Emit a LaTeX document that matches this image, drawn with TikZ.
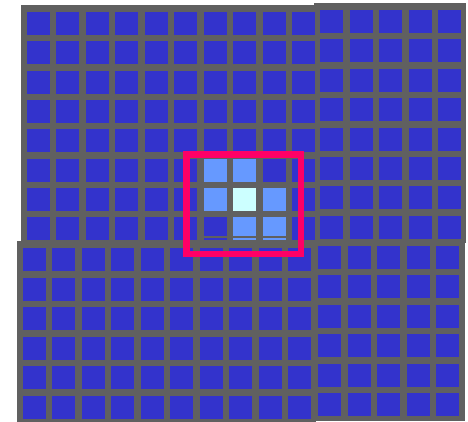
\documentclass[tikz,border=0pt]{standalone}
\definecolor{gridgray}{RGB}{96,96,96}
\definecolor{cellblue}{RGB}{51,51,204}
\definecolor{hiblue}{RGB}{102,153,255}
\definecolor{hicenter}{RGB}{204,255,255}
\definecolor{framered}{RGB}{255,0,102}
\tikzset{
  panel/.style={fill=gridgray},
  cell/.style={fill=cellblue},
  hicell/.style={fill=hiblue},
  centercell/.style={fill=hicenter},
  focusframe/.style={draw=framered,line width=6.5pt}
}
\begin{document}
\begin{tikzpicture}[x=1pt,y=-1pt]
\useasboundingbox (0,0) rectangle (468,422);
\fill[white] (0,0) rectangle (468,422);
% four slightly offset panels
\fill[panel] (21,5) rectangle (316,243);
\fill[panel] (314,3) rectangle (466,243);
\fill[panel] (17,241) rectangle (316,422);
\fill[panel] (314,239) rectangle (465,421);
% top-left cells
\foreach \i in {0,...,9}
  \foreach \j in {0,...,7}
    \fill[cell] ({27+29.45*\i},{12+29.35*\j}) rectangle +(23,23);
% top-right cells
\foreach \i in {0,...,4}
  \foreach \j in {0,...,7}
    \fill[cell] ({320+29.6*\i},{10+29.4*\j}) rectangle +(23,23);
% bottom-left cells
\foreach \i in {0,...,9}
  \foreach \j in {0,...,5}
    \fill[cell] ({23+29.45*\i},{248+29.5*\j}) rectangle +(23,23);
% bottom-right cells
\foreach \i in {0,...,4}
  \foreach \j in {0,...,5}
    \fill[cell] ({318+29.6*\i},{246+29.4*\j}) rectangle +(23,23);
% highlighted cells
\fill[hicell] (203.7,158.75) rectangle +(23,23);
\fill[hicell] (233.15,158.75) rectangle +(23,23);
\fill[hicell] (203.7,188.1) rectangle +(23,23);
\fill[centercell] (233.15,188.1) rectangle +(23,23);
\fill[hicell] (262.6,188.1) rectangle +(23,23);
\fill[hicell] (233.15,217.45) rectangle +(23,23);
\fill[hicell] (262.6,217.45) rectangle +(23,23);
\draw[gridgray,line width=2pt] (202,236.5) -- (288,236.5);
% focus frame
\draw[focusframe] (186.5,154.5) rectangle (301,254);
\end{tikzpicture}
\end{document}
